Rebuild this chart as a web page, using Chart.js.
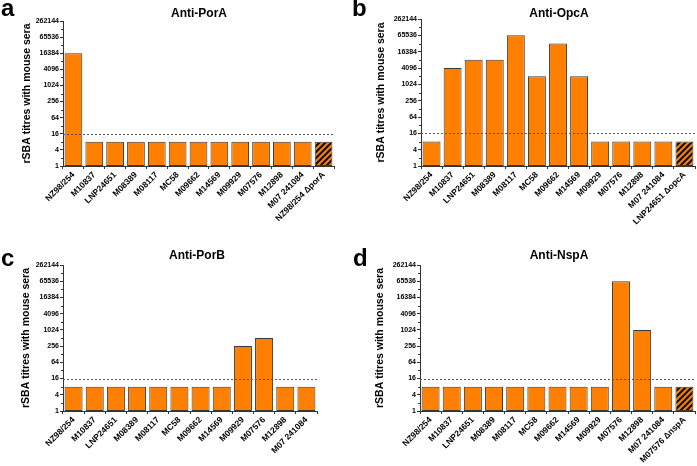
<!DOCTYPE html>
<html>
<head>
<meta charset="utf-8">
<script src="https://cdn.jsdelivr.net/npm/chart.js@4/dist/chart.umd.min.js"></script>
<style>
  html, body { margin: 0; padding: 0; background: #fff; }
  #wrap { position: relative; width: 697px; height: 466px; overflow: hidden; }
  .pane { position: absolute; width: 348px; height: 233px; }
</style>
</head>
<body>
<div id="wrap">
  <div class="pane" style="left:0;top:0"><canvas id="ca"></canvas></div>
  <div class="pane" style="left:348px;top:0;width:349px"><canvas id="cb"></canvas></div>
  <div class="pane" style="left:0;top:233px"><canvas id="cc"></canvas></div>
  <div class="pane" style="left:348px;top:233px;width:349px"><canvas id="cd"></canvas></div>
</div>
<script>
// ---- data ----
const strains = ['NZ98/254','M10837','LNP24651','M08389','M08117','MC58','M09662','M14569','M09929','M07576','M12898','M07 241084'];
const categoriesA = strains.concat(['NZ98/254 \u0394porA']);
const categoriesB = strains.concat(['LNP24651 \u0394opcA']);
const categoriesC = strains.slice();
const categoriesD = strains.concat(['M07576 \u0394nspA']);

const valuesA = [16384, 8, 8, 8, 8, 8, 8, 8, 8, 8, 8, 8, 8];
const valuesB = [8, 4096, 8192, 8192, 65536, 2048, 32768, 2048, 8, 8, 8, 8, 8];
const valuesC = [8, 8, 8, 8, 8, 8, 8, 8, 256, 512, 8, 8];
const valuesD = [8, 8, 8, 8, 8, 8, 8, 8, 8, 65536, 1024, 8, 8];

const titles = ['Anti-PorA', 'Anti-OpcA', 'Anti-PorB', 'Anti-NspA'];
const letters = ['a', 'b', 'c', 'd'];
const yTickValues = [1, 2, 4, 8, 16, 32, 64, 128, 256, 512, 1024, 2048, 4096, 8192, 16384, 32768, 65536, 131072, 262144];
const yLabelValues = [1, 4, 16, 64, 256, 1024, 4096, 16384, 65536, 262144];
const thresholdValue = 16;
const yAxisTitle = 'rSBA titres with mouse sera';

// ---- style ----
const ORANGE = '#FF8000';
const EDGE = '#3a3a3a';
const AXIS = '#333333';
const FONT = "'Liberation Sans', Arial, sans-serif";
const NARROW = "'Liberation Sans Narrow', 'Liberation Sans', Arial, sans-serif";

function hatchPattern() {
  const c = document.createElement('canvas');
  c.width = 6; c.height = 6;
  const g = c.getContext('2d');
  g.fillStyle = ORANGE; g.fillRect(0, 0, 6, 6);
  g.strokeStyle = '#111'; g.lineWidth = 2.2;
  g.beginPath();
  g.moveTo(-1, 7); g.lineTo(7, -1);
  g.moveTo(-4, 4); g.lineTo(4, -4);
  g.moveTo(2, 10); g.lineTo(10, 2);
  g.stroke();
  return document.createElement('canvas').getContext('2d').createPattern(c, 'repeat');
}
const hatch = hatchPattern();

const decorPlugin = {
  id: 'decor',
  afterDraw(chart, args, o) {
    const ctx = chart.ctx;
    const ys = chart.scales.y;
    const area = chart.chartArea;
    ctx.save();
    // threshold dotted line
    const yy = Math.round(ys.getPixelForValue(thresholdValue)) + 0.5;
    ctx.strokeStyle = '#555';
    ctx.lineWidth = 1;
    ctx.setLineDash([2, 2]);
    ctx.beginPath(); ctx.moveTo(area.left, yy); ctx.lineTo(area.right, yy); ctx.stroke();
    ctx.setLineDash([]);
    // minor ticks
    ctx.strokeStyle = AXIS;
    yTickValues.forEach(v => {
      if (yLabelValues.indexOf(v) === -1) {
        const p = Math.round(ys.getPixelForValue(v)) + 0.5;
        ctx.beginPath(); ctx.moveTo(area.left - 2, p); ctx.lineTo(area.left, p); ctx.stroke();
      }
    });
    // panel letter
    ctx.fillStyle = '#000';
    ctx.textBaseline = 'alphabetic';
    ctx.textAlign = 'left';
    ctx.font = 'bold 24px ' + FONT;
    ctx.fillText(o.letter, o.lx, o.ly);
    // title
    ctx.textAlign = 'center';
    ctx.textBaseline = 'middle';
    ctx.font = 'bold 12px ' + FONT;
    ctx.fillText(o.title, o.tx, o.ty);
    ctx.restore();
  }
};

function makeChart(id, cats, vals, hatchLast, L) {
  const bg = vals.map((v, i) => (hatchLast && i === vals.length - 1) ? hatch : ORANGE);
  return new Chart(document.getElementById(id), {
    type: 'bar',
    data: {
      labels: cats,
      datasets: [{
        data: vals,
        backgroundColor: bg,
        borderColor: EDGE,
        borderWidth: 1,
        borderSkipped: false,
        barPercentage: 0.85,
        categoryPercentage: 1.0
      }]
    },
    options: {
      responsive: true,
      maintainAspectRatio: false,
      animation: false,
      events: [],
      layout: { padding: { top: L.top, right: L.right, left: 0, bottom: 0 } },
      plugins: {
        legend: { display: false },
        tooltip: { enabled: false },
        title: { display: false },
        decor: { letter: L.letter, lx: L.lx, ly: L.ly, title: L.title, tx: L.tx, ty: L.ty }
      },
      scales: {
        x: {
          offset: true,
          grid: { display: true, drawOnChartArea: false, drawTicks: true, tickLength: 3, color: AXIS, tickColor: AXIS },
          border: { display: true, color: AXIS, width: 1 },
          ticks: {
            autoSkip: false, maxRotation: 45, minRotation: 45, padding: 1,
            color: '#000', font: { family: FONT, size: 8.5, weight: 'bold' }
          },
          afterFit(s) { s.height = L.xh; }
        },
        y: {
          type: 'logarithmic',
          min: 1, max: 262144,
          afterBuildTicks(s) { s.ticks = yTickValues.map(v => ({ value: v })); },
          grid: {
            display: true, drawOnChartArea: false, drawTicks: true, tickLength: 3,
            color: AXIS,
            tickColor: c => (yLabelValues.indexOf(c.tick && c.tick.value) === -1 ? 'rgba(0,0,0,0)' : AXIS)
          },
          border: { display: true, color: AXIS, width: 1 },
          ticks: {
            autoSkip: false, padding: 1, color: '#000',
            font: { family: NARROW, size: 7, weight: 'bold' },
            callback: v => (yLabelValues.indexOf(v) === -1 ? '' : String(v))
          },
          title: {
            display: true, text: yAxisTitle, color: '#000',
            font: { family: FONT, size: 10.5, weight: 'bold' },
            padding: { top: L.yt, bottom: 0 }
          },
          afterFit(s) { s.width = L.yw; }
        }
      }
    },
    plugins: [decorPlugin]
  });
}

makeChart('ca', categoriesA, valuesA, true,
  { top: 21, right: 14, xh: 67, yw: 63, yt: 21, letter: letters[0], lx: 1, ly: 16, title: titles[0], tx: 199, ty: 14 });
makeChart('cb', categoriesB, valuesB, true,
  { top: 19, right: 2, xh: 67, yw: 73, yt: 27, letter: letters[1], lx: 4, ly: 16, title: titles[1], tx: 211, ty: 14 });
makeChart('cc', categoriesC, valuesC, false,
  { top: 32, right: 31, xh: 55, yw: 63, yt: 20, letter: letters[2], lx: 1, ly: 33, title: titles[2], tx: 197, ty: 23 });
makeChart('cd', categoriesD, valuesD, true,
  { top: 32, right: 2, xh: 55, yw: 72, yt: 26, letter: letters[3], lx: 5, ly: 33, title: titles[3], tx: 211, ty: 23 });
</script>
</body>
</html>
